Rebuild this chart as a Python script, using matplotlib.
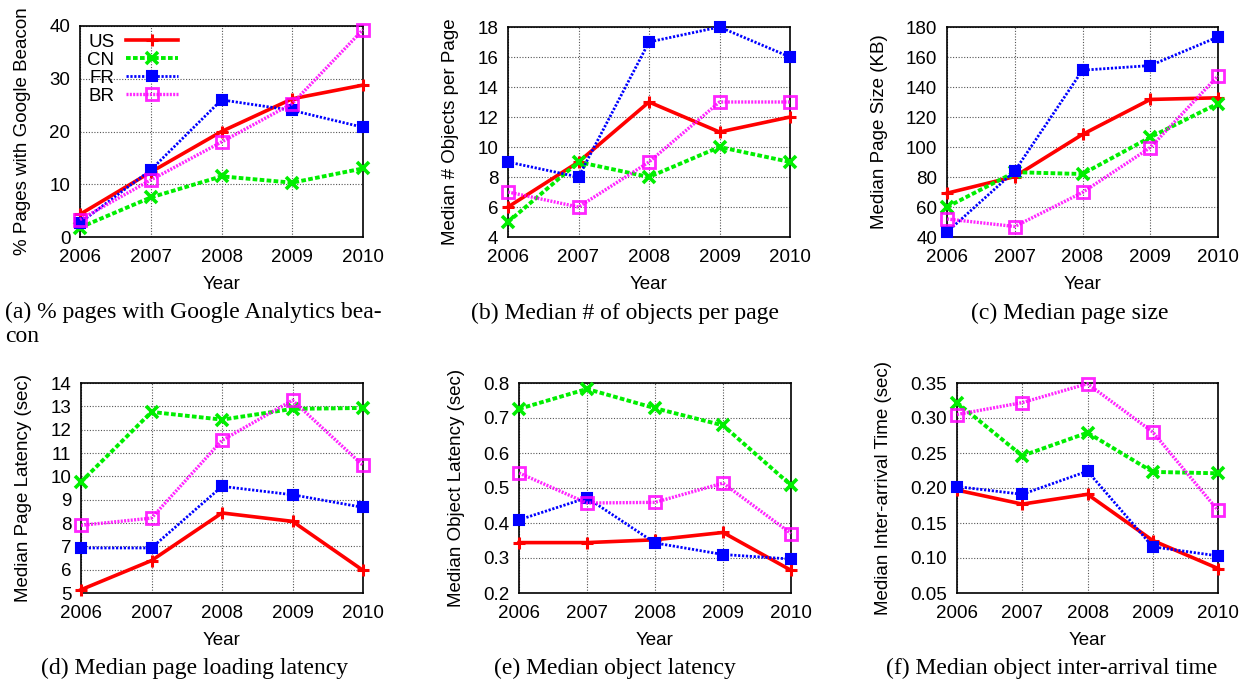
import numpy as np
import matplotlib
matplotlib.use('Agg')
from matplotlib import pyplot as plt

plt.rcParams['font.family'] = ['Liberation Sans', 'DejaVu Sans']

years = [2006, 2007, 2008, 2009, 2010]
countries = ['US', 'CN', 'FR', 'BR']

# (a) % pages with Google Analytics beacon
beacon_us = [4.3, 12.3, 20.0, 26.2, 28.8]
beacon_cn = [1.8, 7.5, 11.5, 10.3, 13.0]
beacon_fr = [2.7, 12.7, 26.0, 24.0, 20.8]
beacon_br = [3.3, 10.8, 18.0, 25.3, 39.3]

# (b) median # objects per page
objects_us = [6, 9, 13, 11, 12]
objects_cn = [5, 9, 8, 10, 9]
objects_fr = [9, 8, 17, 18, 16]
objects_br = [7, 6, 9, 13, 13]

# (c) median page size (KB)
size_us = [69.2, 80.3, 108.4, 131.7, 132.8]
size_cn = [60.0, 83.2, 82.0, 106.5, 129.0]
size_fr = [43.3, 84.0, 151.2, 154.3, 173.4]
size_br = [52.0, 47.0, 69.7, 99.6, 147.4]

# (d) median page latency (sec)
plat_us = [5.14, 6.39, 8.43, 8.07, 5.97]
plat_cn = [9.76, 12.76, 12.43, 12.89, 12.93]
plat_fr = [6.93, 6.93, 9.57, 9.21, 8.67]
plat_br = [7.90, 8.21, 11.54, 13.26, 10.47]

# (e) median object latency (sec)
olat_us = [0.344, 0.344, 0.352, 0.373, 0.265]
olat_cn = [0.726, 0.783, 0.728, 0.679, 0.508]
olat_fr = [0.409, 0.472, 0.343, 0.310, 0.297]
olat_br = [0.543, 0.457, 0.459, 0.514, 0.370]

# (f) median inter-arrival time (sec)
iat_us = [0.197, 0.177, 0.191, 0.125, 0.085]
iat_cn = [0.322, 0.246, 0.279, 0.223, 0.221]
iat_fr = [0.202, 0.191, 0.224, 0.116, 0.103]
iat_br = [0.305, 0.322, 0.349, 0.280, 0.168]

styles = {
    'US': dict(color='#ff0000', ls='-', lw=2.6, marker='+', ms=8, mew=2.2),
    'CN': dict(color='#00ee00', ls=(0, (1.2, 0.6)), lw=2.8, marker='x', ms=8, mew=2.6),
    'FR': dict(color='#0000ff', ls=(0, (0.8, 0.6)), lw=2.0, marker='s', ms=7, mew=1.5),
    'BR': dict(color='#ff00ff', ls=(0, (0.6, 0.4)), lw=2.4, alpha=0.85, marker='s', ms=9,
               mfc='none', mew=2.0),
}

panels = [
    ([beacon_us, beacon_cn, beacon_fr, beacon_br], (0, 40), np.arange(0, 41, 10), '%g',
     '% Pages with Google Beacon', (80, 363, 26, 237)),
    ([objects_us, objects_cn, objects_fr, objects_br], (4, 18), np.arange(4, 19, 2), '%g',
     'Median # Objects per Page', (508, 790, 27, 237)),
    ([size_us, size_cn, size_fr, size_br], (40, 180), np.arange(40, 181, 20), '%g',
     'Median Page Size (KB)', (947, 1218, 27, 237)),
    ([plat_us, plat_cn, plat_fr, plat_br], (5, 14), np.arange(5, 15, 1), '%g',
     'Median Page Latency (sec)', (81, 363, 383, 593)),
    ([olat_us, olat_cn, olat_fr, olat_br], (0.2, 0.8), np.arange(0.2, 0.81, 0.1), '%.1f',
     'Median Object Latency (sec)', (519, 791, 383, 593)),
    ([iat_us, iat_cn, iat_fr, iat_br], (0.05, 0.35), np.arange(0.05, 0.351, 0.05), '%.2f',
     'Median Inter-arrival Time (sec)', (957, 1218, 383, 593)),
]

W, H = 1248, 686
fig = plt.figure(figsize=(W / 100, H / 100), dpi=100)

axes = []
for series, ylim, yticks, fmt, ylabel, (l, r, t, b) in panels:
    ax = fig.add_axes([l / W, 1 - b / H, (r - l) / W, (b - t) / H])
    for name, vals in zip(countries, series):
        ax.plot(years, vals, label=name, clip_on=False, zorder=3, **styles[name])
    ax.set_xlim(2006, 2010)
    ax.set_ylim(*ylim)
    ax.set_xticks(years)
    ax.set_yticks(yticks)
    ax.set_yticklabels([fmt % v for v in yticks])
    ax.tick_params(labelsize=13.5, direction='in', length=0)
    ax.tick_params(axis='x', pad=9)
    ax.tick_params(axis='y', pad=7)
    ax.grid(True, color='#555555', ls=(0, (1, 1.5)), lw=0.8)
    ax.set_xlabel('Year', fontsize=13.5, labelpad=7)
    ax.set_ylabel(ylabel, fontsize=13.5, labelpad=13)
    for s in ax.spines.values():
        s.set_linewidth(1.2)
    axes.append(ax)

axes[0].legend(loc='upper left', markerfirst=False, frameon=False, fontsize=13.5,
               handlelength=2.8, labelspacing=0.05, borderaxespad=0.0,
               handletextpad=0.6, bbox_to_anchor=(0.0, 1.0))

serif = ['Liberation Serif', 'DejaVu Serif']
fig.text(5 / W, 1 - 302 / H, '(a) % pages with Google Analytics bea-\ncon', ha='left',
         va='top', fontsize=17, family=serif, linespacing=1.2)
fig.text(625 / W, 1 - 313 / H, '(b) Median # of objects per page', ha='center', va='center',
         fontsize=17, family=serif)
fig.text(1070 / W, 1 - 313 / H, '(c) Median page size', ha='center', va='center',
         fontsize=17, family=serif)
fig.text(195 / W, 1 - 668 / H, '(d) Median page loading latency', ha='center', va='center',
         fontsize=17, family=serif)
fig.text(615 / W, 1 - 668 / H, '(e) Median object latency', ha='center', va='center',
         fontsize=17, family=serif)
fig.text(1052 / W, 1 - 668 / H, '(f) Median object inter-arrival time', ha='center',
         va='center', fontsize=17, family=serif)

fig.savefig('out.png', dpi=100)
